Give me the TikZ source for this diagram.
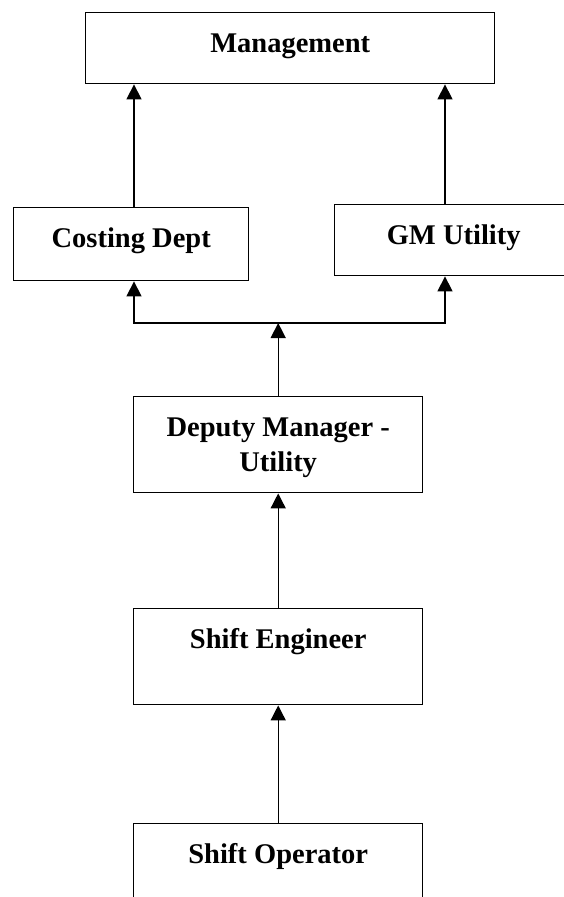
\documentclass[tikz,border=0pt]{standalone}
\usepackage{fontspec}
\setmainfont{Liberation Serif}
\usetikzlibrary{arrows.meta,positioning}
\tikzset{%
  post/.style = {shape=rectangle, draw, line width=1.4pt,%
                 inner xsep=0pt, inner ysep=0pt, align=center,%
                 anchor=north west, text height=40pt,%
                 font=\bfseries\fontsize{28.5}{35}\selectfont},%
  up/.style   = {line width=1.4pt, -{Triangle[width=15pt,length=15pt]}}%
}

\begin{document}
\begin{tikzpicture}[x=1pt,y=-1pt]%
	\useasboundingbox (0,0) rectangle (563,897);
	% the boxes
	\node (mgmt) at (85,12) [post, minimum width=409pt, text depth=31pt] {Management};
	\node (cost) at (13,207) [post, minimum width=235pt, text depth=33pt] {Costing Dept};
	\node (gm) at (334,204) [post, minimum width=238pt, text depth=31pt] {GM Utility};
	\node (dep) at (133,396) [post, minimum width=289pt, text height=75pt, text depth=21pt] {Deputy Manager -\\Utility};
	\node (eng) at (133,608) [post, minimum width=289pt, text depth=56pt] {Shift Engineer};
	\node (op) at (133,823) [post, minimum width=289pt, text depth=56pt] {Shift Operator};
	% junctions
	\coordinate (jl) at (134,323);
	\coordinate (jr) at (445,323);
	% the arrows
	\draw[up] (jl |- cost.north) -- (jl |- mgmt.south);
	\draw[up] (jr |- gm.north) -- (jr |- mgmt.south);
	\draw[up] (dep.north) -- (dep.north |- jl);
	\draw[up] (dep.north |- jl) -- (jl) -- (jl |- cost.south);
	\draw[up] (dep.north |- jl) -- (jr) -- (jr |- gm.south);
	\draw[up] (eng.north) -- (dep.south);
	\draw[up] (op.north) -- (eng.south);
\end{tikzpicture}
\end{document}
